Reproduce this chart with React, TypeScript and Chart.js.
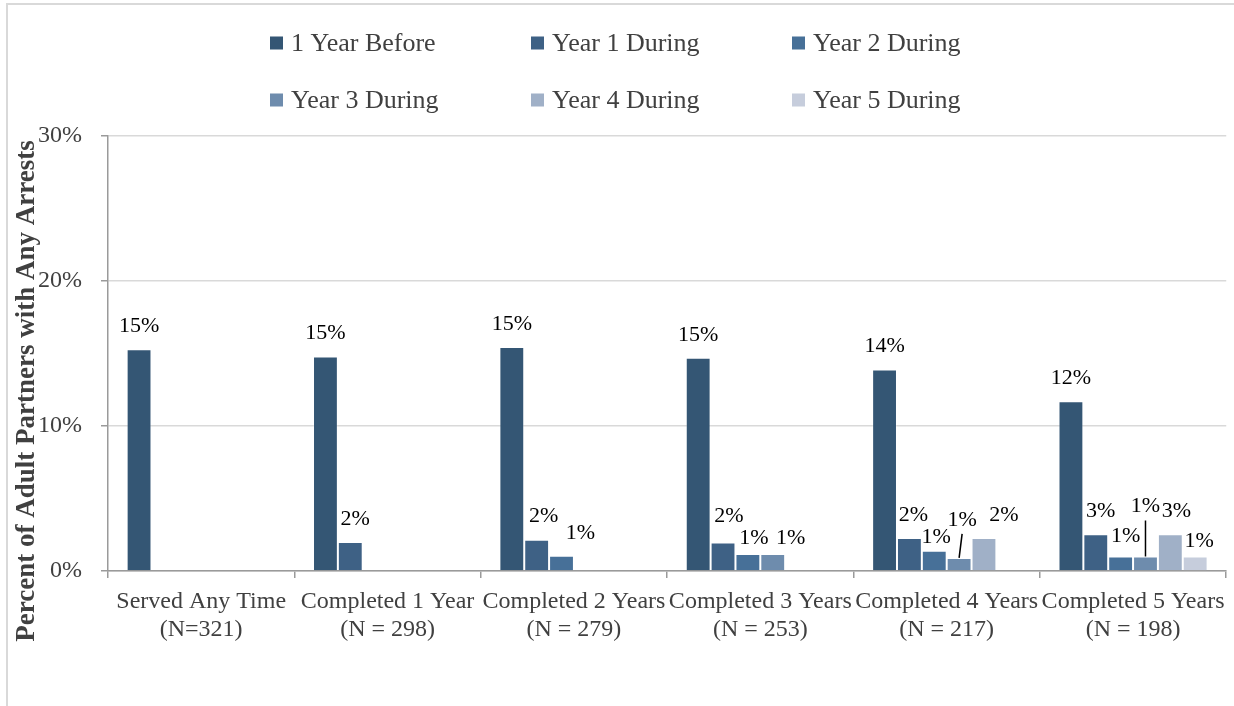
import React, { useEffect, useRef } from 'react';
import { Chart, registerables } from 'chart.js';

Chart.register(...registerables);

const categories: string[][] = [
  ['Served Any Time', '(N=321)'],
  ['Completed 1 Year', '(N = 298)'],
  ['Completed 2 Years', '(N = 279)'],
  ['Completed 3 Years', '(N = 253)'],
  ['Completed 4 Years', '(N = 217)'],
  ['Completed 5 Years', '(N = 198)'],
];

const seriesNames = ['1 Year Before', 'Year 1 During', 'Year 2 During', 'Year 3 During', 'Year 4 During', 'Year 5 During'];
const seriesColors = ['#345674', '#3e6185', '#477098', '#6e8cad', '#a0b0c7', '#c6cddc'];

const yearBefore = [15.3, 14.8, 15.45, 14.7, 13.9, 11.7];
const year1During = [null, 2.0, 2.16, 1.97, 2.28, 2.54];
const year2During = [null, null, 1.05, 1.17, 1.4, 1.0];
const year3During = [null, null, null, 1.17, 0.9, 1.0];
const year4During = [null, null, null, null, 2.28, 2.54];
const year5During = [null, null, null, null, null, 1.0];

const yMin = 0;
const yMax = 30;
const yStep = 10;

const yTitle = 'Percent of Adult Partners with Any Arrests';

const FONT = "'Liberation Serif', 'Times New Roman', serif";

// label nudges (dataset-category) as placed in the original
const labelAdjust: Record<string, { dx?: number; dy?: number; leader?: boolean }> = {
  '1-1': { dx: 5 },
  '1-2': { dx: 7 },
  '2-2': { dx: 19 },
  '1-3': { dx: 6, dy: -3 },
  '2-3': { dx: 6, dy: 7 },
  '3-3': { dx: 18, dy: 7 },
  '1-4': { dx: 4 },
  '2-4': { dx: 2, dy: 10 },
  '3-4': { dx: 3, dy: -15, leader: true },
  '4-4': { dx: 20 },
  '1-5': { dx: 5 },
  '2-5': { dx: 5, dy: 3 },
  '3-5': { dx: 0, dy: -27, leader: true },
  '4-5': { dx: 6 },
  '5-5': { dx: 4, dy: 8 },
};

const dataLabelPlugin = {
  id: 'dataLabels',
  afterDatasetsDraw(chart: any) {
    const ctx = chart.ctx;
    ctx.save();
    ctx.font = `22px ${FONT}`;
    ctx.fillStyle = '#000';
    ctx.textAlign = 'center';
    ctx.textBaseline = 'middle';
    chart.data.datasets.forEach((ds: any, i: number) => {
      const meta = chart.getDatasetMeta(i);
      meta.data.forEach((bar: any, j: number) => {
        const v = ds.data[j];
        if (v === null || v === undefined) return;
        const adj = labelAdjust[`${i}-${j}`] || {};
        const lx = bar.x + (adj.dx || 0);
        const ly = bar.y - 23 + (adj.dy || 0);
        ctx.fillText(Math.round(v) + '%', lx, ly);
        if (adj.leader) {
          ctx.strokeStyle = '#000';
          ctx.lineWidth = 1.5;
          ctx.beginPath();
          ctx.moveTo(lx, ly + 14);
          ctx.lineTo(bar.x, bar.y);
          ctx.stroke();
        }
      });
    });
    ctx.restore();
  },
};

const legendPlugin = {
  id: 'gridLegend',
  afterDraw(chart: any) {
    const ctx = chart.ctx;
    const cols = [270, 531, 792];
    const rows = [43, 100];
    ctx.save();
    ctx.font = `26px ${FONT}`;
    ctx.textBaseline = 'middle';
    ctx.textAlign = 'left';
    chart.data.datasets.forEach((ds: any, i: number) => {
      const x = cols[i % 3];
      const y = rows[Math.floor(i / 3)];
      ctx.fillStyle = ds.backgroundColor;
      ctx.fillRect(x, y - 6.5, 13, 13);
      ctx.fillStyle = '#404040';
      ctx.fillText(ds.label, x + 21, y + 1);
    });
    ctx.restore();
  },
};

const yTitlePlugin = {
  id: 'yTitle',
  afterDraw(chart: any) {
    const ctx = chart.ctx;
    ctx.save();
    ctx.translate(27, 391);
    ctx.rotate(-Math.PI / 2);
    ctx.font = `bold 27px ${FONT}`;
    ctx.fillStyle = '#404040';
    ctx.textAlign = 'center';
    ctx.textBaseline = 'middle';
    ctx.fillText(yTitle, 0, 0);
    ctx.restore();
  },
};

export default function App() {
  const ref = useRef<HTMLCanvasElement | null>(null);

  useEffect(() => {
    if (!ref.current) return;
    const seriesData = [yearBefore, year1During, year2During, year3During, year4During, year5During];
    const chart = new Chart(ref.current, {
      type: 'bar',
      data: {
        labels: categories,
        datasets: seriesData.map((d, i) => ({
          label: seriesNames[i],
          data: d,
          backgroundColor: seriesColors[i],
          borderColor: 'rgba(255,255,255,0.25)',
          borderWidth: 1,
          categoryPercentage: 0.8,
          barPercentage: 1.0,
        })),
      },
      options: {
        responsive: false,
        animation: false,
        layout: { padding: { left: 0, right: 6, top: 136, bottom: 0 } },
        plugins: {
          legend: { display: false },
          tooltip: { enabled: false },
        },
        scales: {
          x: {
            grid: {
              drawOnChartArea: false,
              offset: true,
              tickLength: 7,
              color: '#9a9a9a',
              tickColor: '#9a9a9a',
              lineWidth: 1.5,
            },
            border: { color: '#9a9a9a', width: 1.5 },
            ticks: {
              font: { family: FONT, size: 24 },
              color: '#404040',
              padding: 9,
              maxRotation: 0,
              minRotation: 0,
              autoSkip: false,
            },
            afterFit(scale: any) {
              scale.height = 135;
            },
          },
          y: {
            min: yMin,
            max: yMax,
            grid: {
              color: '#d9d9d9',
              tickColor: '#9a9a9a',
              tickLength: 7,
              lineWidth: 1.5,
            },
            border: { color: '#9a9a9a', width: 1.5 },
            ticks: {
              stepSize: yStep,
              callback: (v: any) => v + '%',
              font: { family: FONT, size: 24 },
              color: '#404040',
              padding: 19,
            },
            afterFit(scale: any) {
              scale.width = 108;
            },
          },
        },
      },
      plugins: [dataLabelPlugin, legendPlugin, yTitlePlugin],
    });
    return () => chart.destroy();
  }, []);

  return (
    <div style={{ position: 'fixed', left: 0, top: 0, width: 1234, height: 706, overflow: 'hidden', background: '#fff' }}>
      <div
        style={{
          position: 'absolute',
          left: 6,
          top: 3,
          width: 1260,
          height: 740,
          border: '2px solid #d9d9d9',
          boxSizing: 'border-box',
        }}
      />
      <canvas ref={ref} width={1234} height={706} style={{ position: 'absolute', left: 0, top: 0, width: 1234, height: 706 }} />
    </div>
  );
}
